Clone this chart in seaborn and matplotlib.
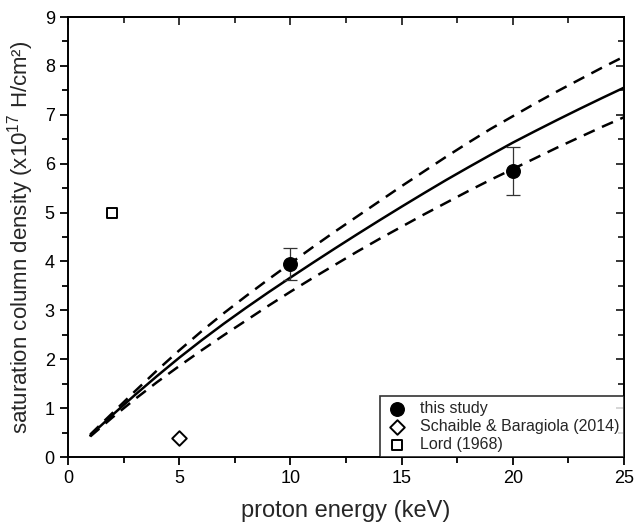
import matplotlib
matplotlib.use("Agg")
import matplotlib.pyplot as plt
import seaborn as sns
import pandas as pd
from matplotlib.ticker import MultipleLocator

# Data
energy = list(range(1, 26))
fit_mid = [0.44, 0.86, 1.265, 1.655, 2.03, 2.385, 2.725, 3.05, 3.365, 3.67,
           3.97, 4.265, 4.555, 4.84, 5.12, 5.395, 5.665, 5.925, 6.18, 6.43,
           6.665, 6.895, 7.12, 7.34, 7.555]
fit_upper = [0.46, 0.90, 1.34, 1.77, 2.18, 2.57, 2.94, 3.29, 3.63, 3.96,
             4.29, 4.61, 4.92, 5.23, 5.54, 5.84, 6.14, 6.43, 6.71, 6.97,
             7.23, 7.48, 7.72, 7.96, 8.19]
fit_lower = [0.42, 0.81, 1.18, 1.53, 1.86, 2.18, 2.49, 2.79, 3.09, 3.38,
             3.66, 3.93, 4.20, 4.46, 4.71, 4.96, 5.20, 5.44, 5.67, 5.89,
             6.11, 6.33, 6.54, 6.75, 6.95]

study_x = [10, 20]
study_y = [3.95, 5.85]
study_err_lo = [0.32, 0.49]
study_err_hi = [0.33, 0.50]

schaible_x = [5]
schaible_y = [0.38]

lord_x = [2]
lord_y = [5.0]

sns.set_theme(style="ticks")
plt.rcParams['font.family'] = ['Liberation Sans', 'DejaVu Sans']
plt.rcParams['mathtext.fontset'] = 'custom'
plt.rcParams['mathtext.rm'] = 'Liberation Sans'

fig = plt.figure(figsize=(6.35, 5.26), dpi=100)
ax = fig.add_axes([68/635, 1-457/526, (624-68)/635, (457-17)/526])

df = pd.DataFrame({"E": energy, "mid": fit_mid, "up": fit_upper, "lo": fit_lower})
sns.lineplot(data=df, x="E", y="mid", ax=ax, color="black", lw=1.8)
sns.lineplot(data=df, x="E", y="up", ax=ax, color="black", lw=1.8)
sns.lineplot(data=df, x="E", y="lo", ax=ax, color="black", lw=1.8)
for ln in ax.lines[1:3]:
    ln.set_dashes([4.8, 3.2])

ax.errorbar(study_x, study_y, yerr=[study_err_lo, study_err_hi], fmt="none",
            ecolor="#333333", elinewidth=0.9, capsize=5, capthick=0.9, zorder=3)
h1 = ax.scatter(study_x, study_y, s=95, marker="o", color="black", zorder=4, label="this study")
h2 = ax.scatter(schaible_x, schaible_y, s=55, marker="D", facecolor="white", edgecolor="black",
                linewidths=1.4, zorder=4, label="Schaible & Baragiola (2014)")
h3 = ax.scatter(lord_x, lord_y, s=55, marker="s", facecolor="white", edgecolor="black",
                linewidths=1.4, zorder=4, label="Lord (1968)")

ax.set_xlim(0, 25)
ax.set_ylim(0, 9)
ax.xaxis.set_major_locator(MultipleLocator(5))
ax.xaxis.set_minor_locator(MultipleLocator(2.5))
ax.yaxis.set_major_locator(MultipleLocator(1))
ax.yaxis.set_minor_locator(MultipleLocator(0.5))

for sp in ax.spines.values():
    sp.set_linewidth(1.4)
    sp.set_color("black")

ax.tick_params(axis="both", which="both", direction="out", width=1.3, labelsize=13, colors="black")
ax.tick_params(which="major", length=6)
ax.tick_params(which="minor", length=4)
ax.tick_params(top=False, right=False)

# inward ticks on top and right
axt = ax.secondary_xaxis("top")
axt.xaxis.set_major_locator(MultipleLocator(5))
axt.xaxis.set_minor_locator(MultipleLocator(2.5))
axt.tick_params(which="both", direction="in", width=1.3, labeltop=False)
axt.tick_params(which="major", length=6)
axt.tick_params(which="minor", length=4)
axt.set_xticklabels([])
axr = ax.secondary_yaxis("right")
axr.yaxis.set_major_locator(MultipleLocator(1))
axr.yaxis.set_minor_locator(MultipleLocator(0.5))
axr.tick_params(which="both", direction="in", width=1.3, labelright=False)
axr.tick_params(which="major", length=6)
axr.tick_params(which="minor", length=4)
axr.set_yticklabels([])
for a in (axt, axr):
    for sp in a.spines.values():
        sp.set_linewidth(1.4)

ax.set_xlabel("proton energy (keV)", fontsize=17, labelpad=9)
ax.set_ylabel("saturation column density (x10$^{17}$ H/cm²)", fontsize=16, labelpad=6)

leg = ax.legend(handles=[h1, h2, h3], loc="lower right", bbox_to_anchor=(1, 0),
                borderaxespad=0, frameon=True, fancybox=False, fontsize=11.5,
                handletextpad=0.6, borderpad=0.3, labelspacing=0.2, handlelength=1.6)
leg.get_frame().set_edgecolor("black")
leg.get_frame().set_linewidth(1.2)

fig.savefig("out.png", dpi=100)
